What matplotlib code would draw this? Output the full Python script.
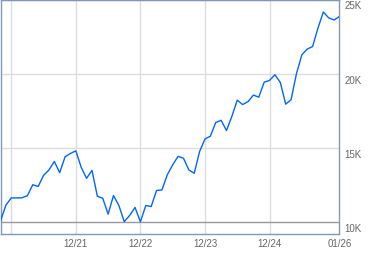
import matplotlib
matplotlib.use("Agg")
import matplotlib.pyplot as plt

# monthly values, Oct 2020 .. Jan 2026
months = list(range(64))
values = [10070, 11140, 11630, 11630, 11640, 11780, 12520, 12400, 13150, 13510,
          14090, 13330, 14400, 14630, 14800, 13690, 12950, 13490, 11740, 11610,
          10540, 11790, 11120, 10030, 10450, 10990, 10020, 11120, 11050, 12130,
          12170, 13190, 13860, 14430, 14310, 13520, 13290, 14760, 15600, 15790,
          16710, 16860, 16170, 17130, 18220, 17920, 18120, 18560, 18420, 19430,
          19550, 19930, 19410, 17950, 18250, 20000, 21270, 21660, 21830, 23080,
          24160, 23760, 23620, 23860]

grid_x = [2, 14, 26, 38, 50]
x_tick_pos = [14, 26, 38, 50, 63]
x_tick_labels = ["12/21", "12/22", "12/23", "12/24", "01/26"]
y_ticks = [10000, 15000, 20000, 25000]
y_tick_labels = ["10K", "15K", "20K", "25K"]

W, H = 379, 255
fig = plt.figure(figsize=(W / 100, H / 100), dpi=100)
ax = fig.add_axes([0.5 / W, 20 / H, 339 / W, 234.5 / H])
ax.set_xlim(0, 63)
ax.set_ylim(9200, 25000)

for gx in grid_x:
    ax.axvline(gx, color="#dddddd", lw=1, zorder=1)
for yv in y_ticks:
    ax.axhline(yv, color="#999999" if yv == 10000 else "#dddddd", lw=1, zorder=1)

ax.plot(months, values, color="#0066ff", lw=1.0, zorder=3)

for s in ax.spines.values():
    s.set_color("#8097b8")
    s.set_linewidth(1)

ax.set_xticks([])
ax.set_yticks([])

font = dict(family="Liberation Sans", fontsize=7, color="#666666")
for xp, lab in zip(x_tick_pos, x_tick_labels):
    ax.annotate(lab, xy=(xp, 0), xycoords=("data", "axes fraction"),
                xytext=(0, -4), textcoords="offset pixels",
                ha="center", va="top", annotation_clip=False, **font)
for yv, lab in zip(y_ticks, y_tick_labels):
    ax.annotate(lab, xy=(1, yv), xycoords=("axes fraction", "data"),
                xytext=(5, -1), textcoords="offset pixels",
                ha="left", va="top", annotation_clip=False, **font)

fig.savefig("out.png", dpi=100)
